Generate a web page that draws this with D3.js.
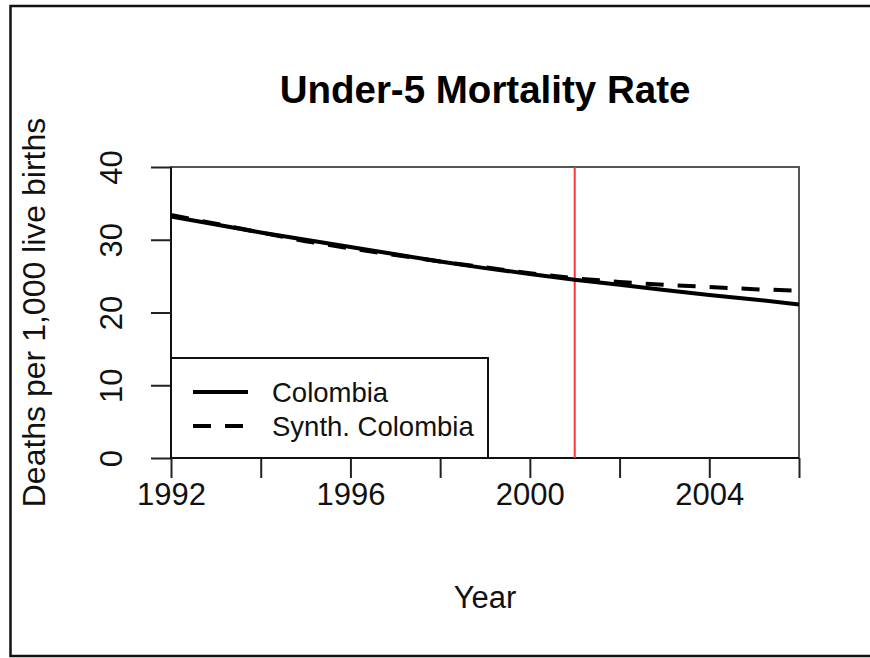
<!DOCTYPE html>
<html>
<head>
<meta charset="utf-8">
<script src="https://cdn.jsdelivr.net/npm/d3@7"></script>
<style>
  html, body { margin: 0; padding: 0; background: #fff; }
  svg { display: block; font-family: "Liberation Sans", Arial, Helvetica, sans-serif; }
</style>
</head>
<body>
<svg id="chart" width="870" height="658"></svg>
<script>
// Under-5 mortality: Colombia vs. synthetic control
const years = [1992, 1993, 1994, 1995, 1996, 1997, 1998, 1999, 2000, 2001, 2002, 2003, 2004, 2005, 2006];
const colombia = [33.2, 32.1, 31.0, 30.0, 29.0, 28.0, 27.0, 26.1, 25.3, 24.5, 23.8, 23.1, 22.4, 21.8, 21.1];
const synthColombia = [33.4, 32.2, 31.0, 29.8, 28.8, 27.9, 27.0, 26.2, 25.4, 24.7, 24.2, 23.8, 23.5, 23.2, 23.0];
const xTicks = [1992, 1994, 1996, 1998, 2000, 2002, 2004, 2006];
const xTickLabels = [1992, 1996, 2000, 2004];
const yTicks = [0, 10, 20, 30, 40];
const treatmentYear = 2001;
const legendLabels = ["Colombia", "Synth. Colombia"];

const svg = d3.select("#chart");

// Outer frame
svg.append("rect")
  .attr("x", 10.5).attr("y", 6).attr("width", 880).attr("height", 650)
  .attr("fill", "none").attr("stroke", "#111").attr("stroke-width", 2.5);

const pLeft = 171, pRight = 799, pTop = 167, pBottom = 458;
const x = d3.scaleLinear().domain([1992, 2006]).range([pLeft, pRight]);
const y = d3.scaleLinear().domain([0, 40]).range([pBottom, pTop]);

// Plot box
svg.append("rect")
  .attr("x", pLeft).attr("y", pTop).attr("width", pRight - pLeft).attr("height", pBottom - pTop)
  .attr("fill", "none").attr("stroke", "#555").attr("stroke-width", 2);

// X axis
const xAxis = d3.axisBottom(x).tickValues(xTicks).tickSize(20)
  .tickFormat(d => xTickLabels.includes(d) ? d : "");
const gx = svg.append("g").attr("transform", `translate(0,${pBottom})`).call(xAxis);
gx.select(".domain").attr("stroke", "#111").attr("stroke-width", 2).attr("d", `M${pLeft},0H${pRight}`);
gx.selectAll(".tick line").attr("stroke", "#222").attr("stroke-width", 2);
gx.selectAll(".tick text").attr("fill", "#111").attr("font-size", 31)
  .attr("font-family", "Liberation Sans, Arial, sans-serif").attr("dy", null).attr("y", 47);

// Y axis
const yAxis = d3.axisLeft(y).tickValues(yTicks).tickSize(20).tickFormat(d3.format("d"));
const gy = svg.append("g").attr("transform", `translate(${pLeft},0)`).call(yAxis);
gy.select(".domain").attr("stroke", "#111").attr("stroke-width", 2).attr("d", `M0,${pTop}V${pBottom}`);
gy.selectAll(".tick line").attr("stroke", "#222").attr("stroke-width", 2);
gy.selectAll(".tick text").attr("fill", "#111").attr("font-size", 31)
  .attr("font-family", "Liberation Sans, Arial, sans-serif")
  .attr("x", null).attr("dy", null).attr("text-anchor", "middle")
  .attr("transform", "translate(-49,0) rotate(-90)");

// Treatment year marker
svg.append("line")
  .attr("x1", x(treatmentYear)).attr("x2", x(treatmentYear))
  .attr("y1", pTop).attr("y2", pBottom)
  .attr("stroke", "#ff3535").attr("stroke-width", 2);

// Series
const line = d3.line().x((d, i) => x(years[i])).y(d => y(d));
svg.append("path").datum(colombia).attr("d", line)
  .attr("fill", "none").attr("stroke", "#000").attr("stroke-width", 4);
svg.append("path").datum(synthColombia).attr("d", line)
  .attr("fill", "none").attr("stroke", "#000").attr("stroke-width", 4)
  .attr("stroke-dasharray", "18,14");

// Legend
const lg = svg.append("g");
lg.append("rect").attr("x", pLeft).attr("y", 358).attr("width", 488 - pLeft).attr("height", pBottom - 358)
  .attr("fill", "#fff").attr("stroke", "#111").attr("stroke-width", 2);
const legendDash = [null, "18,14"];
legendLabels.forEach((lab, i) => {
  const ly = 392 + i * 34;
  lg.append("line").attr("x1", 193).attr("x2", 248).attr("y1", ly).attr("y2", ly)
    .attr("stroke", "#000").attr("stroke-width", 4).attr("stroke-dasharray", legendDash[i]);
  lg.append("text").attr("x", 272).attr("y", ly + 10).attr("font-size", 27.5).attr("fill", "#111")
    .text(lab);
});

// Titles
svg.append("text").attr("x", (pLeft + pRight) / 2).attr("y", 103).attr("text-anchor", "middle")
  .attr("font-size", 38.5).attr("font-weight", "bold").attr("fill", "#000")
  .text("Under-5 Mortality Rate");
svg.append("text").attr("x", (pLeft + pRight) / 2).attr("y", 608).attr("text-anchor", "middle")
  .attr("font-size", 31).attr("fill", "#111").text("Year");
svg.append("text").attr("transform", `translate(45,${(pTop + pBottom) / 2}) rotate(-90)`)
  .attr("text-anchor", "middle").attr("font-size", 32).attr("fill", "#111")
  .text("Deaths per 1,000 live births");
</script>
</body>
</html>
